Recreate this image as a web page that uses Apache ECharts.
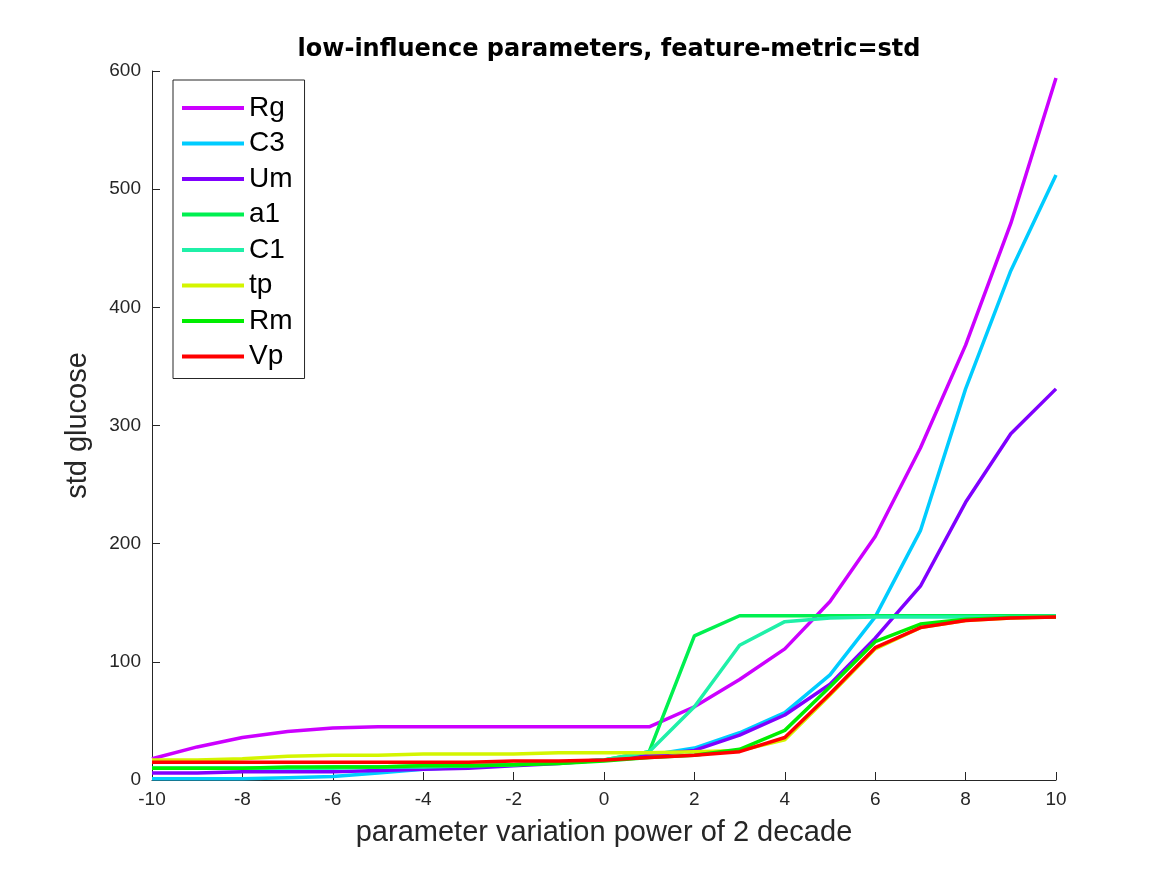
<!DOCTYPE html>
<html>
<head>
<meta charset="utf-8">
<script src="https://cdn.jsdelivr.net/npm/echarts@6/dist/echarts.min.js"></script>
<style>html,body{margin:0;padding:0;background:#fff}#c{width:1167px;height:875px}</style>
</head>
<body>
<div id="c"></div>
<script>
const xs = [-10,-9,-8,-7,-6,-5,-4,-3,-2,-1,0,1,2,3,4,5,6,7,8,9,10];
const seriesNames = ['Rg','C3','Um','a1','C1','tp','Rm','Vp'];
const seriesColors = ['#cc00ff','#00ccff','#8000ff','#00f050','#1ff0a8','#d4f500','#00ee00','#ff0000'];
const Rg = [18,28,36,41,44,45,45,45,45,45,45,45,62,85,111,151,206,281,368,471,594];
const C3 = [1,1,1,2,3,6,9,11,13,15,17,21,27,40,57,89,138,211,331,431,512];
const Um = [6,6,7,7,7,8,9,10,12,14,17,21,25,38,55,81,120,164,235,293,331];
const a1 = [10,10,10,10,11,11,12,12,13,15,17,24,122,139,139,139,139,139,139,139,139];
const C1 = [10,10,10,10,10,11,11,12,13,15,17,24,62,114,134,137,138,138,138,138,138.5];
const tp = [17,17,18,20,21,21,22,22,22,23,23,23,24,25,34,72,111,129,135,137,138];
const Rm = [10,10,10,11,11,11,12,12,13,14,16,19,21,26,42,79,117,132,136,137.5,138];
const Vp = [15,15,15,15,15,15,15,15,16,16,17,19,21,24,36,73,112,129,135,137,138];
const yTicks = {min:0, max:600, interval:100};
const xTicks = {min:-10, max:10, interval:2};

const allValues = [Rg,C3,Um,a1,C1,tp,Rm,Vp];
const axisColor = '#262626';
const font = 'Liberation Sans, Arial, Helvetica, sans-serif';

const chart = echarts.init(document.getElementById('c'));
chart.setOption({
  animation: false,
  backgroundColor: '#fff',
  title: {
    text: 'low-influence parameters, feature-metric=std',
    left: 604, top: 33, textAlign: 'center',
    textStyle: {fontFamily: 'DejaVu Sans', fontWeight: 'bold', fontSize: 24, color: '#000'}
  },
  grid: {left: 152, right: 111, top: 71, bottom: 95, containLabel: false},
  legend: {
    orient: 'vertical', left: 173, top: 80,
    data: seriesNames,
    icon: 'rect', itemWidth: 62, itemHeight: 4, itemGap: 7.5,
    padding: [14, 12, 8, 9],
    backgroundColor: '#fff', borderColor: axisColor, borderWidth: 1, borderRadius: 0,
    textStyle: {fontFamily: font, fontSize: 28, color: '#000', lineHeight: 28}
  },
  xAxis: {
    type: 'value', min: xTicks.min, max: xTicks.max, interval: xTicks.interval,
    name: 'parameter variation power of 2 decade', nameLocation: 'middle', nameGap: 38,
    nameTextStyle: {fontFamily: font, fontSize: 29, color: axisColor},
    axisLine: {show: true, onZero: false, lineStyle: {color: axisColor, width: 1}},
    axisTick: {show: true, inside: true, length: 8, lineStyle: {color: axisColor}},
    axisLabel: {fontFamily: font, fontSize: 19, color: axisColor, margin: 10},
    splitLine: {show: false}
  },
  yAxis: {
    type: 'value', min: yTicks.min, max: yTicks.max, interval: yTicks.interval,
    name: 'std glucose', nameLocation: 'middle', nameGap: 60,
    nameTextStyle: {fontFamily: font, fontSize: 29, color: axisColor},
    axisLine: {show: true, onZero: false, lineStyle: {color: axisColor, width: 1}},
    axisTick: {show: true, inside: true, length: 8, lineStyle: {color: axisColor}},
    axisLabel: {fontFamily: font, fontSize: 19, color: axisColor, margin: 11},
    splitLine: {show: false}
  },
  series: seriesNames.map((n, i) => ({
    name: n, type: 'line', showSymbol: false, symbol: 'none',
    data: xs.map((x, j) => [x, allValues[i][j]]),
    lineStyle: {width: 3.5, color: seriesColors[i]},
    itemStyle: {color: seriesColors[i]},
    emphasis: {disabled: true}
  }))
});
</script>
</body>
</html>
